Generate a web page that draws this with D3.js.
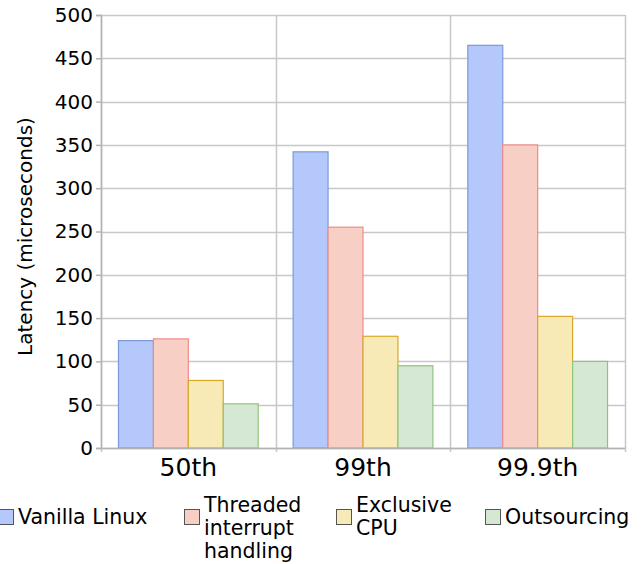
<!DOCTYPE html>
<html>
<head>
<meta charset="utf-8">
<script src="https://cdn.jsdelivr.net/npm/d3@7"></script>
<style>
  body { margin: 0; background: #fff; }
  svg { font-family: "DejaVu Sans", sans-serif; }
</style>
</head>
<body>
<svg width="643" height="564"></svg>
<script>
const categories = ["50th", "99th", "99.9th"];
const seriesNames = ["Vanilla Linux", "Threaded interrupt handling", "Exclusive CPU", "Outsourcing"];
const legendLines = [["Vanilla Linux"], ["Threaded", "interrupt", "handling"], ["Exclusive", "CPU"], ["Outsourcing"]];
const vanilla = [124, 342, 465];
const threaded = [126, 255, 350];
const exclusive = [78, 129, 152];
const outsourcing = [51, 95, 100];
const yTicks = [0, 50, 100, 150, 200, 250, 300, 350, 400, 450, 500];

const values = [vanilla, threaded, exclusive, outsourcing];
const fills = ["#b4c8fb", "#f8cfc5", "#f8eab6", "#d5e8d4"];
const strokes = ["#7d9ad8", "#f08a8a", "#d6a92a", "#93c27b"];

const margin = { top: 15, right: 18, bottom: 116, left: 101 };
const width = 643 - margin.left - margin.right;
const height = 564 - margin.top - margin.bottom;

const svg = d3.select("svg")
  .append("g")
  .attr("transform", `translate(${margin.left},${margin.top})`);

const x = d3.scaleBand().domain(categories).range([0, width]).padding(0);
const xInner = d3.scaleBand().domain(seriesNames).range([0, x.bandwidth()])
  .paddingInner(0).paddingOuter(0.5);
const y = d3.scaleLinear().domain([0, 500]).range([height, 0]);

// horizontal grid
svg.selectAll(".grid-y")
  .data(yTicks)
  .enter().append("line")
  .attr("x1", 0).attr("x2", width)
  .attr("y1", d => Math.round(y(d)) + 0.5)
  .attr("y2", d => Math.round(y(d)) + 0.5)
  .style("stroke", "#c8c8c8")
  .style("stroke-width", 1.5);

// vertical grid at category boundaries
const bounds = categories.map(c => x(c)).concat([width]);
svg.selectAll(".grid-x")
  .data(bounds)
  .enter().append("line")
  .attr("x1", d => Math.round(d) + 0.5).attr("x2", d => Math.round(d) + 0.5)
  .attr("y1", 0).attr("y2", height + 4)
  .style("stroke", "#c8c8c8")
  .style("stroke-width", 1.5);

// bars
const groups = svg.selectAll(".grp")
  .data(categories)
  .enter().append("g")
  .attr("transform", d => `translate(${x(d)},0)`);

groups.selectAll("rect")
  .data((c, ci) => seriesNames.map((s, si) => ({ s, si, v: values[si][ci] })))
  .enter().append("rect")
  .attr("x", d => xInner(d.s))
  .attr("y", d => y(d.v))
  .attr("width", xInner.bandwidth())
  .attr("height", d => height - y(d.v))
  .attr("fill", d => fills[d.si])
  .attr("stroke", d => strokes[d.si])
  .attr("stroke-width", 1.2);

// y axis
const yAxis = svg.append("g")
  .call(d3.axisLeft(y).tickValues(yTicks).tickSize(5).tickPadding(3));
yAxis.select(".domain").attr("stroke", "#b3b3b3").attr("stroke-width", 1.5);
yAxis.selectAll(".tick line").attr("stroke", "#b3b3b3").attr("stroke-width", 1.5);
yAxis.selectAll("text")
  .style("font-size", "20px")
  .style("font-family", "DejaVu Sans")
  .attr("fill", "#000");

// x axis line
svg.append("line")
  .attr("x1", 0).attr("x2", width)
  .attr("y1", height + 0.5).attr("y2", height + 0.5)
  .style("stroke", "#b3b3b3").style("stroke-width", 1.5);

svg.selectAll(".cat")
  .data(categories)
  .enter().append("text")
  .attr("x", d => x(d) + x.bandwidth() / 2)
  .attr("y", height + 28)
  .attr("text-anchor", "middle")
  .style("font-size", "25px")
  .text(d => d);

svg.append("text")
  .attr("transform", "rotate(-90)")
  .attr("x", -(height / 2) - 5)
  .attr("y", -69)
  .attr("text-anchor", "middle")
  .style("font-size", "20px")
  .text("Latency (microseconds)");

// legend
const legendX = [-2, 184, 336, 485];
const legend = d3.select("svg").append("g");
const items = legend.selectAll(".item")
  .data(seriesNames)
  .enter().append("g")
  .attr("transform", (d, i) => `translate(${legendX[i]},0)`);

items.append("rect")
  .attr("x", 0.5).attr("y", 509.5)
  .attr("width", 15).attr("height", 15)
  .attr("fill", (d, i) => fills[i])
  .attr("stroke", "#555")
  .attr("stroke-width", 1);

items.append("text")
  .style("font-size", "20.5px")
  .each(function(d, i) {
    const lines = legendLines[i];
    const top = lines.length > 1 ? 512 : 524;
    d3.select(this).selectAll("tspan")
      .data(lines)
      .enter().append("tspan")
      .attr("x", 20)
      .attr("y", (l, k) => top + k * 23)
      .text(l => l);
  });
</script>
</body>
</html>
